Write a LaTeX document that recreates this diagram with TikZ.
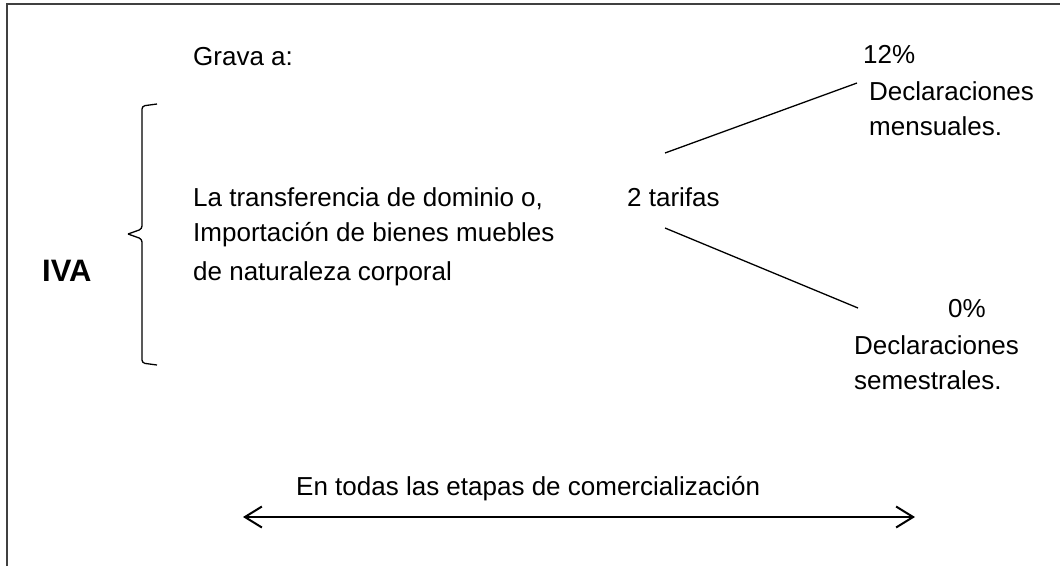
\documentclass[tikz,border=0pt]{standalone}
\usepackage{fontspec}
\setmainfont{Liberation Sans}
\usetikzlibrary{arrows.meta}
\begin{document}
\begin{tikzpicture}[x=1pt,y=-1pt,
  txt/.style={anchor=base west,inner sep=0pt,font=\fontsize{26}{30}\selectfont},
  ln/.style={line width=1.3pt,black},
  frameln/.style={line width=1.5pt,black!75}]
\useasboundingbox (0,0) rectangle (1060,566);
\draw[frameln] (7,566) -- (7,4) -- (1060,4);
% texts
\node[txt] (grava) at (193,65) {Grava a:};
\node[txt] (l1) at (193,206) {La transferencia de dominio o,};
\node[txt] (l2) at (193,241) {Importación de bienes muebles};
\node[txt] (l3) at (193,280) {de naturaleza corporal};
\node[txt] (tar) at (627,206) {2 tarifas};
\node[txt] (p12) at (863,63) {12\%};
\node[txt] (d1) at (869,100) {Declaraciones};
\node[txt] (m1) at (869,135) {mensuales.};
\node[txt] (p0) at (948,317) {0\%};
\node[txt] (d2) at (854,354) {Declaraciones};
\node[txt] (s2) at (854,389) {semestrales.};
\node[txt] (etapas) at (296,495) {En todas las etapas de comercialización};
\node[anchor=base west,inner sep=0pt,font=\fontsize{31}{36}\bfseries] (iva) at (42,281) {IVA};
% brace
\draw[ln,rounded corners=3pt] (157,104) -- (142,106) -- (142,229) -- (128,234);
\draw[ln,rounded corners=3pt] (128,234) -- (142,239) -- (142,363) -- (157,365);
% connectors
\coordinate (u1) at (665,153);
\coordinate (u2) at (857,83);
\coordinate (w1) at (665,228);
\coordinate (w2) at (858,308);
\draw[ln] (u1) -- (u2);
\draw[ln] (w1) -- (w2);
\coordinate (aL) at (243,517);
\coordinate (aR) at (915,517);
\draw[line width=2pt,{Straight Barb[length=17pt,width=21pt]}-{Straight Barb[length=17pt,width=21pt]}] (aL) -- (aR);
\end{tikzpicture}
\end{document}
